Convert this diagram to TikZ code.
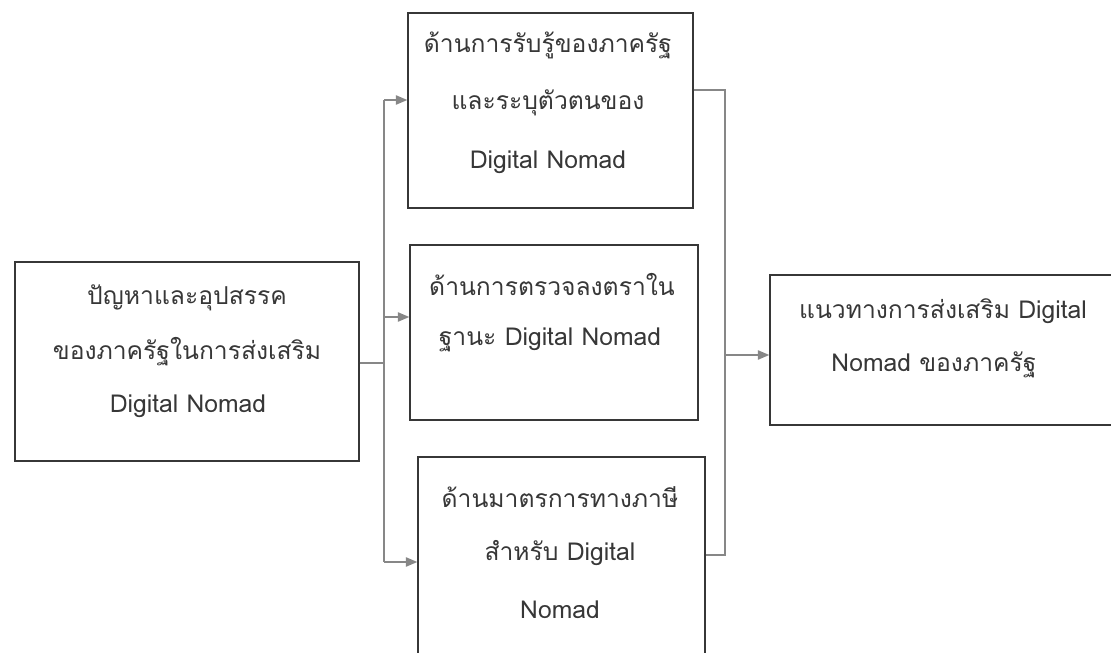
\documentclass[tikz,border=0pt]{standalone}
\usepackage{fontspec}
\setmainfont[Script=Thai]{Loma}
\usetikzlibrary{arrows.meta}
\definecolor{boxc}{RGB}{55,55,55}
\definecolor{linec}{RGB}{135,135,135}
\definecolor{txtc}{RGB}{55,55,55}
\tikzset{
  box/.style={draw=boxc, line width=1.1pt, rectangle, inner sep=0pt},
  conn/.style={draw=linec, line width=0.9pt},
  arr/.style={conn, -{Triangle[length=8.5pt,width=7pt]}, shorten >=0pt},
  txt/.style={text=txtc, font=\fontsize{18.5}{40}\selectfont, align=center, inner sep=0pt}
}
\begin{document}
\begin{tikzpicture}[x=0.75pt,y=-0.75pt]
\useasboundingbox (0,0) rectangle (1111,653);
\clip (0,0) rectangle (1111,653);
% boxes
\node[box, minimum width=344*0.75pt, minimum height=199*0.75pt] (left) at (187,361.5) {};
\node[box, minimum width=285*0.75pt, minimum height=195*0.75pt] (top) at (550.5,110.5) {};
\node[box, minimum width=288*0.75pt, minimum height=175*0.75pt] (mid) at (554,332.5) {};
\node[box, minimum width=287*0.75pt, minimum height=210*0.75pt] (bot) at (561.5,562) {};
\node[box, minimum width=345*0.75pt, minimum height=150*0.75pt] (right) at (942.5,350) {};
% texts
\node[txt] (tl1) at (187,298) {ปัญหาและอุปสรรค};
\node[txt] (tl2) at (187,352) {ของภาครัฐในการส่งเสริม};
\node[txt] (tl3) at (188,406) {Digital Nomad};
\node[txt] (tt1) at (548,45) {ด้านการรับรู้ของภาครัฐ};
\node[txt] (tt2) at (548,103) {และระบุตัวตนของ};
\node[txt] (tt3) at (548,162) {Digital Nomad};
\node[txt] (tm1) at (552,284) {ด้านการตรวจลงตราใน};
\node[txt] (tm2) at (550,340) {ฐานะ Digital Nomad};
\node[txt] (tb1) at (560,497) {ด้านมาตรการทางภาษี};
\node[txt] (tb2) at (560,553) {สำหรับ Digital};
\node[txt] (tb3) at (560,610) {Nomad};
\node[txt] (tr1) at (943,311) {แนวทางการส่งเสริม Digital};
\node[txt] (tr2) at (934,365) {Nomad ของภาครัฐ};
% junction coordinates
\coordinate (jl) at (384,363);
\coordinate (jlt) at (384,100);
\coordinate (jlm) at (384,317);
\coordinate (jlb) at (384,562);
\coordinate (jrt) at (725,90);
\coordinate (jrb) at (725,555);
\coordinate (jrm) at (725,355);
% connectors
\draw[conn] (left.east |- jl) -- (jl);
\draw[conn] (jlt) -- (jlb);
\draw[arr] (jlt) -- (jlt -| top.west);
\draw[arr] (jlm) -- (jlm -| mid.west);
\draw[arr] (jlb) -- (jlb -| bot.west);
\draw[conn] (jrt -| top.east) -- (jrt) -- (jrb) -- (jrb -| bot.east);
\draw[arr] (jrm) -- (jrm -| right.west);
\end{tikzpicture}
\end{document}
